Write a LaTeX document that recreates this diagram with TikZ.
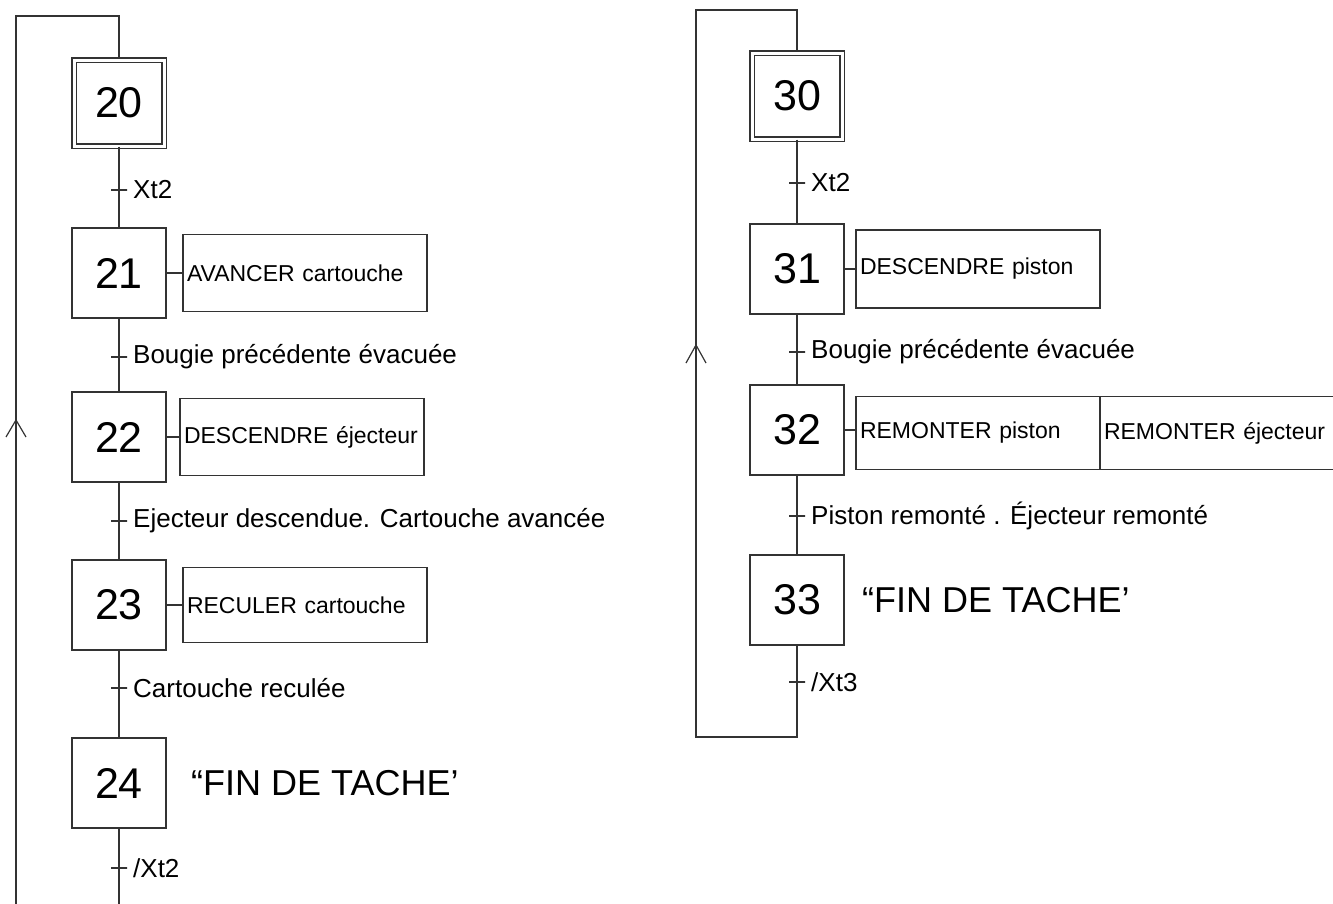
\documentclass[tikz,border=0pt]{standalone}
\usepackage{fontspec}
\setmainfont{Liberation Sans}
\usetikzlibrary{positioning}

\begin{document}
\begin{tikzpicture}
[x=1pt, y=-1pt, draw=black!80, line width=1.2pt,
etape/.style={rectangle, draw, minimum width=94pt, minimum height=90pt, inner sep=0pt, font=\fontsize{43}{47}\selectfont},
etapeinit/.style={etape, double, double distance=3pt, minimum width=90pt, minimum height=86pt},
action/.style={rectangle, draw, text width=236pt, inner xsep=4pt, inner ysep=0pt, outer sep=0pt, minimum height=77pt, align=left, font=\fontsize{23}{27}\selectfont},
recept/.style={draw, minimum width=16pt, minimum height=0pt, inner sep=0pt},
cond/.style={inner sep=0pt, font=\fontsize{26}{30}\selectfont},
fin/.style={inner sep=0pt, font=\fontsize{36}{40}\selectfont}]

\useasboundingbox (0,0) rectangle (1333,903);

% grafcet 20
\node[etapeinit] (e20) at (119,103) {20};
\node[etape] (e21) at (119,273) {21};
\node[etape] (e22) at (119,437) {22};
\node[etape] (e23) at (119,605) {23};
\node[etape] (e24) at (119,783) {24};

\node[action] (a21) at (305,273) {AVANCER cartouche};
\node[action] (a22) at (302,437) {DESCENDRE éjecteur};
\node[action, minimum height=75pt] (a23) at (305,605) {RECULER cartouche};
\node[fin, right=24pt of e24] (f24) {“FIN DE TACHE’};

\node[recept] (t20) at (119,190) {};
\node[recept] (t21) at (119,357) {};
\node[recept] (t22) at (119,521) {};
\node[recept] (t23) at (119,688) {};
\node[recept] (t24) at (119,868) {};

\node[cond, right=5pt of t20] (c20) {Xt2};
\node[cond, right=5pt of t21] (c21) {Bougie précédente évacuée};
\node[cond, right=5pt of t22] (c22) {Ejecteur descendue. Cartouche avancée};
\node[cond, right=5pt of t23] (c23) {Cartouche reculée};
\node[cond, right=5pt of t24] (c24) {/Xt2};

\draw (e20) -- (e21);
\draw (e21) -- (e22);
\draw (e22) -- (e23);
\draw (e23) -- (e24);
\draw (e21) -- (a21);
\draw (e22) -- (a22);
\draw (e23) -- (a23);

\coordinate (bas1) at (16,915);
\coordinate (haut1) at (16,16);
\coordinate (fl1) at (16,420);
\draw (e24) |- (bas1) -- (haut1) -| (e20);
\draw (fl1) ++(-10,17) -- (fl1) -- ++(10,17);

% grafcet 30
\node[etapeinit] (e30) at (797,96) {30};
\node[etape] (e31) at (797,269) {31};
\node[etape] (e32) at (797,430) {32};
\node[etape] (e33) at (797,600) {33};

\node[action, minimum height=78pt] (a31) at (978,269) {DESCENDRE piston};
\node[action, minimum height=73pt] (a32) at (978,433) {REMONTER piston};
\node[action, minimum height=73pt, right=0pt of a32] (b32) {REMONTER éjecteur};
\node[fin, right=17pt of e33] (f33) {“FIN DE TACHE’};

\node[recept] (t30) at (797,183) {};
\node[recept] (t31) at (797,352) {};
\node[recept] (t32) at (797,516) {};
\node[recept] (t33) at (797,682) {};

\node[cond, right=5pt of t30] (c30) {Xt2};
\node[cond, right=5pt of t31] (c31) {Bougie précédente évacuée};
\node[cond, right=5pt of t32] (c32) {Piston remonté . Éjecteur remonté};
\node[cond, right=5pt of t33] (c33) {/Xt3};

\draw (e30) -- (e31);
\draw (e31) -- (e32);
\draw (e32) -- (e33);
\draw (e31) -- (a31);
\draw (e32) -- (a32.west |- e32);

\coordinate (bas2) at (696,737);
\coordinate (haut2) at (696,10);
\coordinate (fl2) at (696,345);
\draw (e33) |- (bas2) -- (haut2) -| (e30);
\draw (fl2) ++(-10,18) -- (fl2) -- ++(10,18);
\end{tikzpicture}
\end{document}
